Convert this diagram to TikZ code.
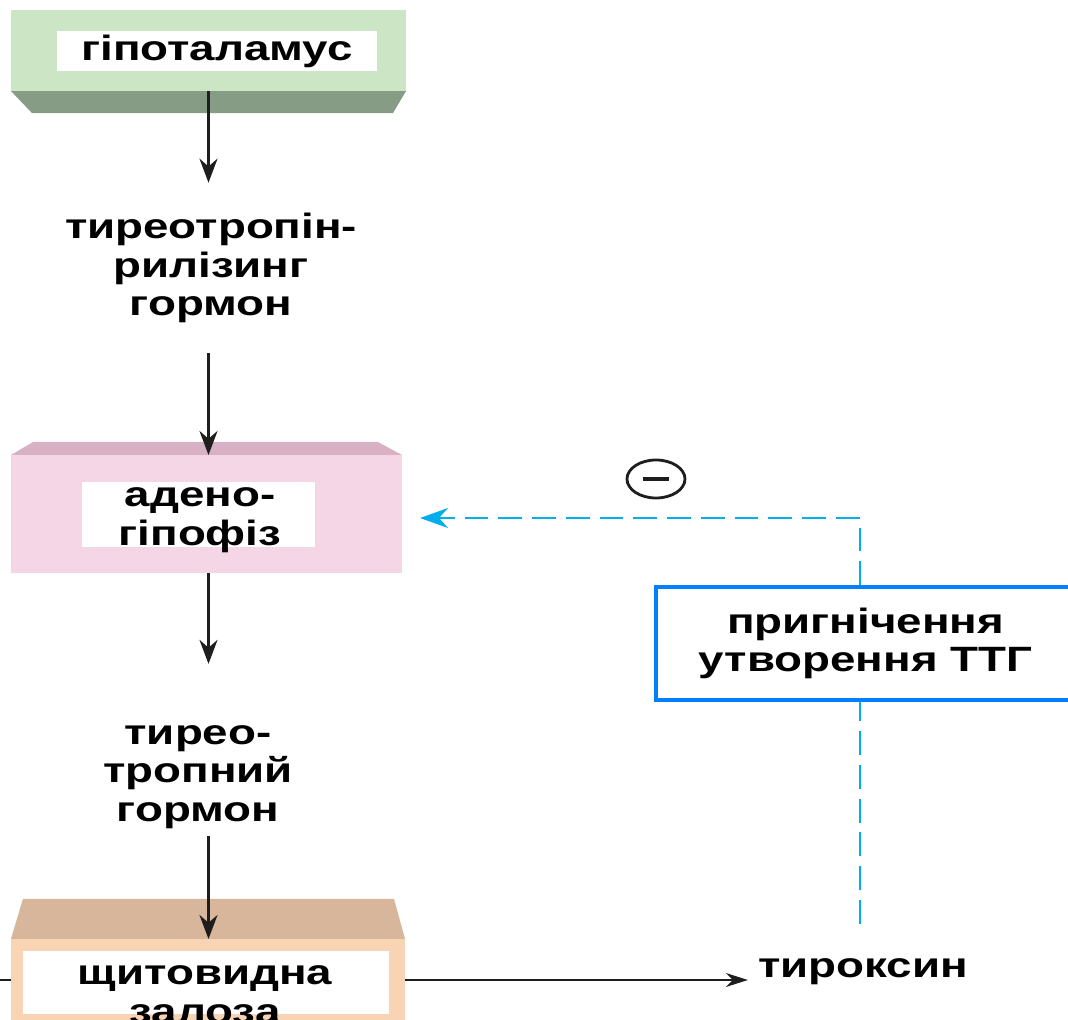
\documentclass[tikz,border=0pt]{standalone}
\usepackage{fontspec}
\setmainfont{Liberation Sans}
\newfontfamily\widefont[FakeStretch=1.3]{Liberation Sans}
\usetikzlibrary{arrows.meta}
\usetikzlibrary{shapes.geometric}
\tikzset{>={Stealth[length=6mm,width=4.5mm]}}
\definecolor{hypolight}{RGB}{204,230,197}
\definecolor{hypodark}{RGB}{135,156,133}
\definecolor{adenolight}{RGB}{245,214,230}
\definecolor{adenodark}{RGB}{216,178,196}
\definecolor{thylight}{RGB}{249,212,180}
\definecolor{thydark}{RGB}{216,182,156}
\definecolor{inhblue}{RGB}{0,128,255}
\definecolor{fbblue}{RGB}{0,174,239}
\definecolor{arrblack}{RGB}{30,30,30}
\tikzset{
	gland/.style={inner sep=0pt, outer sep=0pt},
	inbox/.style={fill=white, inner sep=0pt, outer sep=0pt},
	lbl/.style={font=\widefont\bfseries\fontsize{25}{27.5}\selectfont, align=center, inner sep=0pt},
	arr/.style={draw=arrblack, line width=2pt, ->},
	fb/.style={draw=fbblue, line width=1.6pt, dash pattern=on 17pt off 7pt},
}

\begin{document}
\begin{tikzpicture}[x=0.025cm,y=-0.025cm]
	\useasboundingbox (0,0) rectangle (1068,1020);
	\clip (0,0) rectangle (1068,1020);

	\coordinate (src) at (0,980);
	\node[lbl, anchor=base] (tyr) at (863,977) {тироксин};
	\draw[arrblack, line width=1pt, -{Stealth[length=5.5mm,width=3.5mm]}, shorten >=0.25cm] (src) -- (src -| tyr.west);

	% hypothalamus
	\node[gland, fill=hypolight, minimum width=9.875cm, minimum height=2.025cm] (hypo) at (208.5,50.5) {};
	\fill[hypodark] (hypo.south west) -- (hypo.south east) -- ++(-13,22) -- ([shift={(21,22)}]hypo.south west) -- cycle;
	\node[inbox, lbl, minimum width=8cm, minimum height=1cm] (hypotxt) at (217,51) {гіпоталамус};

	\node[lbl, minimum height=4.25cm] (trh) at (211,268) {тиреотропін-\\рилізинг\\гормон};

	% adenohypophysis
	\node[gland, fill=adenolight, minimum width=9.775cm, minimum height=2.95cm] (adeno) at (206.5,514) {};
	\fill[adenodark] (adeno.north west) -- ++(22,-13) -- ([shift={(-24,-13)}]adeno.north east) -- (adeno.north east) -- cycle;
	\node[inbox, minimum width=5.825cm, minimum height=1.625cm] (adenobox) at (198.5,514.5) {};
	\node[lbl] (adenotxt) at (200,520) {адено-\\гіпофіз};

	\node[lbl] (tth) at (198,777) {тирео-\\тропний\\гормон};

	% thyroid
	\node[gland, fill=thylight, minimum width=9.85cm, minimum height=2.3cm] (thy) at (208,985) {};
	\fill[thydark] (thy.north west) -- ++(12,-40) -- ([shift={(-11,-40)}]thy.north east) -- (thy.north east) -- cycle;
	\node[inbox, minimum width=9.15cm, minimum height=1.575cm] (thybox) at (206,982.5) {};
	\node[lbl] (thytxt) at (205,995) {щитовидна\\залоза};

	\draw[arr] (hypo.south) -- (hypo.south |- trh.north);
	\draw[arr] (hypo.south |- trh.south) -- (hypo.south |- adeno.north);
	\draw[arr] (hypo.south |- adeno.south) -- ([yshift=1.525cm]hypo.south |- tth.north);
	\draw[arr] ([yshift=-0.175cm]hypo.south |- tth.south) -- (hypo.south |- thy.north);

	% feedback
	\node[lbl, draw=inhblue, line width=2.5pt, minimum width=10.475cm, minimum height=2.825cm] (inh) at (865.5,643.5) {пригнічення\\утворення ТТГ};
	\draw[fb, shorten <=0.85cm] ([xshift=-0.075cm]tyr.north) -- ([xshift=-0.075cm]tyr.north |- inh.south);
	\draw[fb, -{Stealth[length=7mm,width=5mm]}, shorten >=0.45cm] ([xshift=-0.075cm]tyr.north |- inh.north) |- ([yshift=-0.1cm]adeno.east);
	\node[draw=arrblack, line width=2pt, ellipse, minimum width=1.45cm, minimum height=0.95cm, inner sep=0pt] (minus) at (656,479) {};
	\draw[arrblack, line width=2.2pt] ([xshift=-0.32cm]minus.center) -- ([xshift=0.32cm]minus.center); % sign
\end{tikzpicture}
\end{document}
